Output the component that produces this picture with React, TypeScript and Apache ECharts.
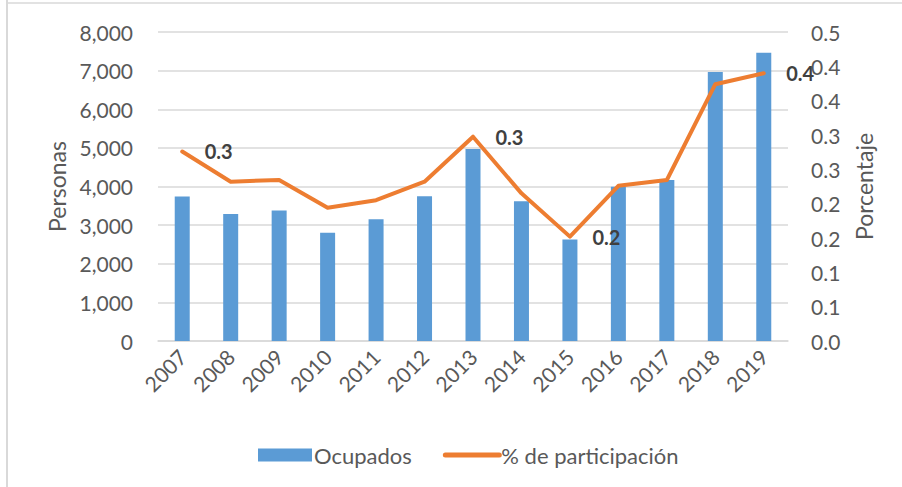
import React, { useEffect, useRef } from "react";
import * as echarts from "echarts";

const years = ["2007", "2008", "2009", "2010", "2011", "2012", "2013", "2014", "2015", "2016", "2017", "2018", "2019"];
const ocupados = [3740, 3290, 3380, 2800, 3150, 3750, 4970, 3620, 2630, 3995, 4170, 6965, 7465];
const participacion = [0.276, 0.232, 0.2345, 0.194, 0.205, 0.232, 0.2975, 0.215, 0.152, 0.226, 0.2345, 0.374, 0.39];
const labelledIndices = [0, 6, 8, 12];

const FONT = "Lato, 'Noto Sans', sans-serif";
const fmt1 = (v: number) => (Math.round(v * 10 + 1e-6) / 10).toFixed(1);

export default function App() {
  const ref = useRef<HTMLDivElement>(null);
  useEffect(() => {
    document.body.style.margin = "0";
    if (!ref.current) return;
    const chart = echarts.init(ref.current, undefined, { renderer: "svg" });
    const lineData = participacion.map((v, i) =>
      labelledIndices.includes(i)
        ? {
            value: v,
            label: {
              show: true,
              position: "right",
              distance: 22,
              fontSize: 20,
              fontWeight: "bold",
              color: "#404040",
              fontFamily: FONT,
              formatter: (p: any) => fmt1(p.value),
            },
          }
        : v
    );
    chart.setOption({
      animation: false,
      backgroundColor: "#ffffff",
      textStyle: { fontFamily: FONT },
      grid: { left: 158, right: 114, top: 32, bottom: 146 },
      legend: {
        left: 253,
        top: 439,
        itemWidth: 54,
        itemHeight: 13,
        itemGap: 31,
        textStyle: { fontSize: 22, color: "#595959", fontFamily: FONT, padding: [0, 0, 0, -3] },
        data: [
          { name: "Ocupados", icon: "rect" },
          { name: "% de participación", itemStyle: { opacity: 0 }, lineStyle: { width: 5, cap: "round" } },
        ],
      },
      xAxis: {
        type: "category",
        data: years,
        boundaryGap: true,
        axisTick: { show: false },
        axisLine: { lineStyle: { color: "#D9D9D9", width: 1.5 } },
        axisLabel: { rotate: 45, fontSize: 21, color: "#595959", margin: 12, fontFamily: FONT },
      },
      yAxis: [
        {
          type: "value",
          min: 0,
          max: 8000,
          interval: 1000,
          name: "Personas",
          nameLocation: "middle",
          nameGap: 88,
          nameTextStyle: { fontSize: 23, color: "#595959", fontFamily: FONT },
          axisLine: { show: false },
          axisTick: { show: false },
          splitLine: { lineStyle: { color: "#D9D9D9", width: 1.5 } },
          axisLabel: {
            fontSize: 21,
            color: "#595959",
            margin: 25,
            fontFamily: FONT,
            formatter: (v: number) => v.toLocaleString("en-US"),
          },
        },
        {
          type: "value",
          min: 0,
          max: 0.45,
          interval: 0.05,
          name: "Porcentaje",
          nameLocation: "middle",
          nameGap: 64,
          nameTextStyle: { fontSize: 23, color: "#595959", fontFamily: FONT },
          axisLine: { show: false },
          axisTick: { show: false },
          splitLine: { show: false },
          axisLabel: {
            fontSize: 21,
            color: "#595959",
            margin: 23,
            fontFamily: FONT,
            formatter: (v: number) => fmt1(v),
          },
        },
      ],
      series: [
        {
          name: "Ocupados",
          type: "bar",
          data: ocupados,
          barWidth: 15,
          itemStyle: { color: "#5B9BD5" },
          yAxisIndex: 0,
        },
        {
          name: "% de participación",
          type: "line",
          data: lineData,
          yAxisIndex: 1,
          symbol: "circle",
          symbolSize: 1,
          showSymbol: true,
          lineStyle: { color: "#ED7D31", width: 4, cap: "round", join: "round" },
          itemStyle: { color: "#ED7D31" },
        },
      ],
      graphic: [
        { type: "line", shape: { x1: 7, y1: 0, x2: 7, y2: 487 }, style: { stroke: "#D9D9D9", lineWidth: 2 } },
        { type: "line", shape: { x1: 7, y1: 3, x2: 902, y2: 3 }, style: { stroke: "#D9D9D9", lineWidth: 1.5 } },
      ],
    });
    return () => chart.dispose();
  }, []);
  return <div ref={ref} style={{ width: 902, height: 487 }} />;
}
